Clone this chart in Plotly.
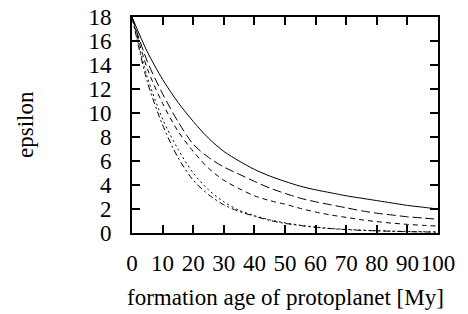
import plotly.graph_objects as go

age = [0, 5, 10, 15, 20, 25, 30, 35, 40, 45, 50, 55, 60, 65, 70, 75, 80, 85, 90, 95, 100]

eps_solid = [18, 15.1, 12.8, 10.9, 9.3, 7.9, 6.8, 6.0, 5.3, 4.75, 4.3, 3.9, 3.6, 3.35, 3.1, 2.9, 2.7, 2.5, 2.3, 2.15, 2.0]
eps_longdash = [18, 14.3, 11.6, 9.3, 7.4, 6.3, 5.5, 4.9, 4.3, 3.75, 3.3, 2.9, 2.6, 2.35, 2.1, 1.85, 1.65, 1.5, 1.35, 1.25, 1.14]
eps_dash = [18, 13.7, 10.8, 8.5, 6.8, 5.4, 4.4, 3.7, 3.1, 2.7, 2.4, 2.05, 1.75, 1.5, 1.3, 1.1, 0.95, 0.82, 0.72, 0.64, 0.58]
eps_dot = [18, 13.0, 9.5, 7.0, 5.0, 3.6, 2.6, 1.9, 1.45, 1.1, 0.85, 0.65, 0.5, 0.38, 0.3, 0.24, 0.2, 0.16, 0.13, 0.11, 0.09]
eps_dashdot = [18, 12.6, 9.0, 6.3, 4.4, 3.2, 2.35, 1.8, 1.4, 1.05, 0.8, 0.62, 0.47, 0.36, 0.28, 0.22, 0.18, 0.14, 0.11, 0.09, 0.07]

x_title = "formation age of protoplanet [My]"
y_title = "epsilon"

series = [
    (eps_solid, "solid"),
    (eps_longdash, "9px,4px"),
    (eps_dash, "5px,4px"),
    (eps_dot, "2px,3px"),
    (eps_dashdot, "6px,3px,2px,3px"),
]

fig = go.Figure()
for ys, dash in series:
    fig.add_trace(go.Scatter(x=age, y=ys, mode="lines",
                             line=dict(color="black", width=1, dash=dash, shape="spline", smoothing=0.8),
                             showlegend=False, hoverinfo="skip"))

font = dict(family="Liberation Serif", size=23, color="black")
fig.update_layout(
    width=468, height=314,
    margin=dict(l=132, r=30, t=17, b=81, autoexpand=False),
    plot_bgcolor="white", paper_bgcolor="white",
    font=font,
)
fig.update_xaxes(
    range=[0, 100], tickvals=[0, 10, 20, 30, 40, 50, 60, 70, 80, 90, 100], tickangle=0,
    ticks="inside", ticklen=8, tickwidth=1.5, tickcolor="black",
    showline=True, linecolor="black", linewidth=2, mirror="ticks",
    showgrid=False, zeroline=False, ticklabelstandoff=8, automargin=False,
    ticklabeloverflow="allow",
)
fig.update_yaxes(
    range=[0, 18], tickvals=list(range(0, 19, 2)),
    ticks="inside", ticklen=8, tickwidth=1.5, tickcolor="black",
    showline=True, linecolor="black", linewidth=2, mirror="ticks",
    showgrid=False, zeroline=False, ticklabelstandoff=14, automargin=False,
    ticklabeloverflow="allow",
)
fig.add_annotation(text=x_title, xref="paper", yref="paper", x=0.5, y=0,
                   xanchor="center", yanchor="middle", yshift=-64, showarrow=False, font=font)
fig.add_annotation(text=y_title, xref="paper", yref="paper", x=0, y=0.5, textangle=-90,
                   xanchor="center", yanchor="middle", xshift=-107, showarrow=False, font=font)
fig.write_html("out.html", config={"displayModeBar": False},
               post_script="document.body.style.margin='0px';")
